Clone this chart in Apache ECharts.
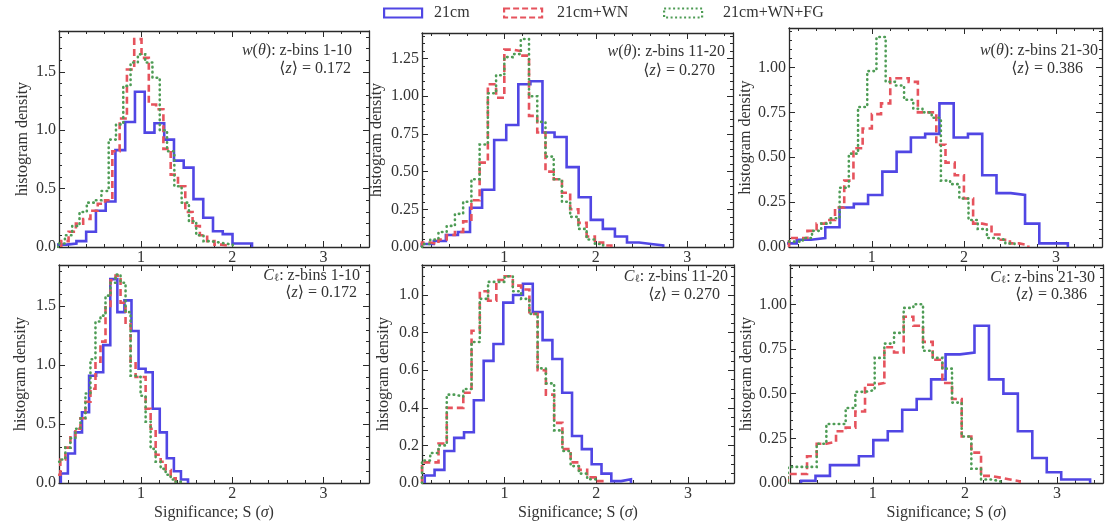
<!DOCTYPE html>
<html>
<head>
<meta charset="utf-8">
<script src="https://cdn.jsdelivr.net/npm/echarts@6/dist/echarts.min.js"></script>
<style>
  html, body { margin: 0; padding: 0; background: #ffffff; }
  #chart { width: 1109px; height: 525px; }
</style>
</head>
<body>
<div id="chart"></div>
<script>
// ---------------- data ----------------
const SERIES_NAMES = ['21cm', '21cm+WN', '21cm+WN+FG'];
const PANEL_LABELS = [
  '{it|w}({it|θ}): z-bins 1-10',
  '{it|w}({it|θ}): z-bins 11-20',
  '{it|w}({it|θ}): z-bins 21-30',
  '{it|C}{sub|ℓ}: z-bins 1-10',
  '{it|C}{sub|ℓ}: z-bins 11-20',
  '{it|C}{sub|ℓ}: z-bins 21-30'
];
const MEAN_Z = ['0.172', '0.270', '0.386', '0.172', '0.270', '0.386'];
const S_TICKS = [1, 2, 3];
const S_RANGE = [0.1, 3.5];
const Y_MAX = [1.85, 1.42, 1.22, 1.85, 1.16, 1.22];
const Y_STEP = [0.5, 0.25, 0.25, 0.5, 0.2, 0.25];
const Y_MINOR_STEP = [0.1, 0.05, 0.05, 0.1, 0.05, 0.05];
const Y_DECIMALS = [1, 2, 2, 1, 1, 2];

// Histogram bins as [first edge, bin width] for 21cm, 21cm+WN, 21cm+WN+FG,
// followed by the density of every bin.
// w(theta), z-bins 1-10
const W1_BINS = [[0.077, 0.107], [0.125, 0.08], [0.085, 0.08]];
const W1_21CM = [0.02, 0.03, 0.05, 0.13, 0.31, 0.39, 0.83, 1.07, 1.33, 0.98, 1.06, 0.92, 0.74, 0.68, 0.41, 0.25, 0.135, 0.11, 0.03, 0.03];
const W1_WN = [0.05, 0.13, 0.20, 0.24, 0.31, 0.37, 0.40, 0.82, 1.10, 1.52, 1.78, 1.62, 1.22, 1.18, 0.84, 0.62, 0.52, 0.30, 0.18, 0.10, 0.05, 0.02, 0.01];
const W1_FG = [0.03, 0.10, 0.18, 0.30, 0.38, 0.40, 0.48, 0.92, 1.05, 1.38, 1.58, 1.65, 1.58, 1.45, 1.00, 0.82, 0.52, 0.38, 0.22, 0.10, 0.05, 0.04, 0.03, 0.02];
// w(theta), z-bins 11-20
const W2_BINS = [[0.097, 0.132], [0.10, 0.09], [0.10, 0.09]];
const W2_21CM = [0.02, 0.04, 0.08, 0.10, 0.26, 0.38, 0.71, 0.81, 1.08, 1.10, 0.76, 0.73, 0.53, 0.33, 0.18, 0.12, 0.07, 0.03, 0.02, 0.01];
const W2_WN = [0.03, 0.02, 0.05, 0.08, 0.10, 0.17, 0.31, 0.56, 1.08, 0.99, 1.31, 1.30, 1.27, 0.87, 0.76, 0.50, 0.45, 0.36, 0.25, 0.16, 0.07, 0.03, 0.01];
const W2_FG = [0.02, 0.05, 0.10, 0.14, 0.22, 0.30, 0.45, 0.68, 1.02, 1.14, 1.26, 1.28, 1.38, 1.00, 0.83, 0.60, 0.45, 0.30, 0.20, 0.12, 0.05, 0.02];
// w(theta), z-bins 21-30
const W3_BINS = [[0.029, 0.155], [0.10, 0.10], [0.05, 0.10]];
const W3_21CM = [0.02, 0.04, 0.05, 0.11, 0.22, 0.24, 0.29, 0.42, 0.53, 0.61, 0.63, 0.80, 0.61, 0.63, 0.40, 0.30, 0.29, 0.13, 0.02, 0.02];
const W3_WN = [0.05, 0.05, 0.09, 0.13, 0.15, 0.22, 0.37, 0.55, 0.66, 0.74, 0.80, 0.94, 0.94, 0.92, 0.75, 0.75, 0.57, 0.47, 0.40, 0.27, 0.13, 0.12, 0.07, 0.04, 0.02, 0.01];
const W3_FG = [0.03, 0.03, 0.05, 0.09, 0.13, 0.16, 0.33, 0.52, 0.78, 0.98, 1.17, 0.92, 0.90, 0.82, 0.77, 0.75, 0.72, 0.37, 0.35, 0.27, 0.15, 0.10, 0.05, 0.04, 0.02];
// C_ell, z-bins 1-10
const C1_BINS = [[0.12, 0.0775], [0.06, 0.055], [0.06, 0.055]];
const C1_21CM = [0.08, 0.25, 0.43, 0.60, 0.91, 0.94, 1.17, 1.73, 1.45, 1.55, 1.29, 0.97, 0.94, 0.63, 0.43, 0.21, 0.10, 0.03];
const C1_WN = [0.07, 0.20, 0.30, 0.40, 0.46, 0.55, 0.69, 0.80, 1.03, 1.20, 1.49, 1.72, 1.76, 1.53, 1.36, 1.03, 0.90, 0.90, 0.63, 0.46, 0.24, 0.18, 0.11, 0.04, 0.01];
const C1_FG = [0.18, 0.20, 0.30, 0.38, 0.46, 0.55, 0.76, 1.05, 1.37, 1.42, 1.59, 1.70, 1.77, 1.70, 1.45, 0.91, 0.90, 0.74, 0.52, 0.29, 0.18, 0.12, 0.07, 0.03, 0.01];
// C_ell, z-bins 11-20
const C2_BINS = [[0.13, 0.107], [0.10, 0.09], [0.10, 0.09]];
const C2_21CM = [0.04, 0.07, 0.17, 0.24, 0.27, 0.44, 0.65, 0.74, 0.96, 1.00, 1.06, 0.91, 0.76, 0.66, 0.48, 0.25, 0.18, 0.10, 0.05, 0.01, 0.02];
const C2_WN = [0.11, 0.11, 0.21, 0.40, 0.40, 0.48, 0.81, 1.02, 0.97, 1.08, 1.10, 1.05, 1.03, 0.90, 0.60, 0.47, 0.32, 0.18, 0.11, 0.07, 0.03, 0.01];
const C2_FG = [0.12, 0.16, 0.20, 0.47, 0.46, 0.50, 0.75, 0.98, 1.07, 1.07, 1.10, 1.02, 0.98, 0.90, 0.61, 0.53, 0.28, 0.17, 0.09, 0.05, 0.02];
// C_ell, z-bins 21-30
const C3_BINS = [[0.22, 0.157], [0.075, 0.105], [0.075, 0.105]];
const C3_21CM = [0.013, 0.04, 0.10, 0.10, 0.15, 0.24, 0.29, 0.41, 0.47, 0.58, 0.72, 0.73, 0.88, 0.58, 0.50, 0.29, 0.14, 0.06, 0.02, 0.02];
const C3_WN = [0.05, 0.05, 0.15, 0.22, 0.23, 0.29, 0.31, 0.40, 0.55, 0.56, 0.76, 0.73, 0.93, 0.88, 0.79, 0.69, 0.56, 0.47, 0.26, 0.17, 0.04, 0.03, 0.02, 0.01];
const C3_FG = [0.09, 0.09, 0.09, 0.22, 0.33, 0.33, 0.42, 0.51, 0.52, 0.70, 0.78, 0.84, 0.98, 1.00, 0.74, 0.70, 0.64, 0.45, 0.26, 0.08, 0.02, 0.01];

const PANELS = [
  { bins: W1_BINS, heights: [W1_21CM, W1_WN, W1_FG] },
  { bins: W2_BINS, heights: [W2_21CM, W2_WN, W2_FG] },
  { bins: W3_BINS, heights: [W3_21CM, W3_WN, W3_FG] },
  { bins: C1_BINS, heights: [C1_21CM, C1_WN, C1_FG] },
  { bins: C2_BINS, heights: [C2_21CM, C2_WN, C2_FG] },
  { bins: C3_BINS, heights: [C3_21CM, C3_WN, C3_FG] }
];

// ---------------- layout & style ----------------
const FONT = '"Liberation Serif", "DejaVu Serif", serif';
const INK = '#333333';
const FRAME = '#2a2a2a';
const COLORS = ['#5046e4', '#e6535d', '#4e9c55'];
const LINE_TYPES = ['solid', [7, 4], [0.5, 4.5]];
const LINE_CAPS = ['butt', 'butt', 'round'];
const LEGEND_BORDER = ['solid', [6, 3], [2, 2.5]];
const LEGEND_LEFT = [383, 503, 663];
const LEGEND_TEXT_PAD = [7, 10, 16];
// grid boxes: [left, top, width, height]
const GRIDS = [
  [59, 31, 310, 216], [422, 33, 311, 214], [789, 28, 313, 219],
  [59, 265, 310, 218], [422, 265, 312, 218], [790, 265, 313, 218]
];
const Y_NAME_GAP = [28, 37, 35, 30, 30, 35];
// annotation boxes: [right offset line 1, top line 1, right offset line 2, top line 2]
const NOTE_POS = [
  [757, 43, 758, 61], [384, 44, 394, 63], [11, 43, 26, 61],
  [749, 268, 752, 285], [381, 269, 389, 287], [14, 270, 22, 287]
];

const RICH = {
  it: { fontFamily: FONT, fontSize: 16, fontStyle: 'italic', color: INK },
  sub: { fontFamily: FONT, fontSize: 11, color: INK, lineHeight: 6, verticalAlign: 'bottom' }
};

function range(from, to, step) {
  const out = [];
  for (let k = 0; from + k * step <= to + 1e-9; k++) out.push(+(from + k * step).toFixed(4));
  return out;
}
function without(values, majors) {
  return values.filter(v => !majors.some(m => Math.abs(m - v) < 1e-6));
}
// step outline of a histogram, closed down to zero at both ends
function outline(start, width, heights) {
  const pts = [[start, 0]];
  heights.forEach((h, k) => pts.push([start + k * width, h]));
  const end = start + heights.length * width;
  pts.push([end, heights[heights.length - 1]], [end, 0]);
  return pts;
}

const X_MINOR = without(range(0.2, 3.4, 0.2), S_TICKS);
const labelStyle = { fontFamily: FONT, fontSize: 16, color: INK };

const xAxis = [], yAxis = [], grid = [], series = [], title = [];

PANELS.forEach((panel, p) => {
  const [l, t, w, h] = GRIDS[p];
  grid.push({ left: l, top: t, width: w, height: h, containLabel: false, outerBoundsMode: 'none' });

  const baseX = { gridIndex: p, type: 'value', min: S_RANGE[0], max: S_RANGE[1], splitLine: { show: false } };
  const lineOn = { show: true, onZero: false, lineStyle: { color: FRAME, width: 1.3 } };
  const lineOff = { show: false, onZero: false };
  const majorTick = vals => ({ show: true, inside: true, length: 6, customValues: vals, lineStyle: { color: FRAME, width: 1 } });
  const minorTick = vals => ({ show: true, inside: true, length: 3, customValues: vals, lineStyle: { color: FRAME, width: 1 } });
  const bottomRow = p >= 3;

  xAxis.push(
    Object.assign({}, baseX, {
      position: 'bottom', axisLine: lineOn, axisTick: majorTick(S_TICKS),
      axisLabel: Object.assign({ customValues: S_TICKS, margin: 3 }, labelStyle),
      name: bottomRow ? 'Significance; S ({it|σ})' : '',
      nameLocation: 'middle', nameGap: 22,
      nameTextStyle: Object.assign({ rich: RICH }, labelStyle)
    }),
    Object.assign({}, baseX, { position: 'bottom', axisLine: lineOff, axisTick: minorTick(X_MINOR), axisLabel: { show: false } }),
    Object.assign({}, baseX, { position: 'top', axisLine: lineOn, axisTick: majorTick(S_TICKS), axisLabel: { show: false } }),
    Object.assign({}, baseX, { position: 'top', axisLine: lineOff, axisTick: minorTick(X_MINOR), axisLabel: { show: false } })
  );

  const yMajor = range(0, Y_MAX[p], Y_STEP[p]);
  const yMinor = without(range(0, Y_MAX[p], Y_MINOR_STEP[p]), yMajor);
  const baseY = { gridIndex: p, type: 'value', min: 0, max: Y_MAX[p], splitLine: { show: false } };
  const dec = Y_DECIMALS[p];
  yAxis.push(
    Object.assign({}, baseY, {
      position: 'left', axisLine: lineOn, axisTick: majorTick(yMajor),
      axisLabel: Object.assign({ customValues: yMajor, margin: 3, formatter: v => v.toFixed(dec) }, labelStyle),
      name: 'histogram density', nameLocation: 'middle', nameRotate: 90, nameGap: Y_NAME_GAP[p],
      nameTextStyle: labelStyle
    }),
    Object.assign({}, baseY, { position: 'left', axisLine: lineOff, axisTick: minorTick(yMinor), axisLabel: { show: false } }),
    Object.assign({}, baseY, { position: 'right', axisLine: lineOn, axisTick: majorTick(yMajor), axisLabel: { show: false } }),
    Object.assign({}, baseY, { position: 'right', axisLine: lineOff, axisTick: minorTick(yMinor), axisLabel: { show: false } })
  );

  panel.heights.forEach((hs, s) => {
    const [start, width] = panel.bins[s];
    series.push({
      name: SERIES_NAMES[s],
      type: 'line',
      xAxisIndex: 4 * p,
      yAxisIndex: 4 * p,
      step: 'end',
      symbol: 'none',
      showSymbol: false,
      clip: true,
      z: 2 + s,
      data: outline(start, width, hs),
      lineStyle: { color: COLORS[s], width: 2.6, type: LINE_TYPES[s], cap: LINE_CAPS[s], join: 'miter' },
      itemStyle: { color: COLORS[s] }
    });
  });

  const [r1, t1, r2, t2] = NOTE_POS[p];
  title.push(
    { text: PANEL_LABELS[p], right: r1, top: t1, padding: 0,
      textStyle: Object.assign({ fontWeight: 'normal', rich: RICH }, labelStyle) },
    { text: '⟨{it|z}⟩ = ' + MEAN_Z[p], right: r2, top: t2, padding: 0,
      textStyle: Object.assign({ fontWeight: 'normal', rich: RICH }, labelStyle) }
  );
});

const legend = SERIES_NAMES.map((name, i) => ({
  left: LEGEND_LEFT[i], top: 5, padding: 0, selectedMode: false,
  itemWidth: 38, itemHeight: 9, icon: 'rect',
  textStyle: Object.assign({ padding: [0, 0, 0, LEGEND_TEXT_PAD[i]] }, labelStyle),
  data: [{
    name: name, icon: 'rect',
    itemStyle: { color: 'rgba(0,0,0,0)', borderColor: COLORS[i], borderWidth: 2.2, borderType: LEGEND_BORDER[i] }
  }]
}));

const chart = echarts.init(document.getElementById('chart'), null, { renderer: 'canvas' });
chart.setOption({
  animation: false,
  backgroundColor: '#ffffff',
  textStyle: { fontFamily: FONT },
  title, legend, grid, xAxis, yAxis, series
});
</script>
</body>
</html>
